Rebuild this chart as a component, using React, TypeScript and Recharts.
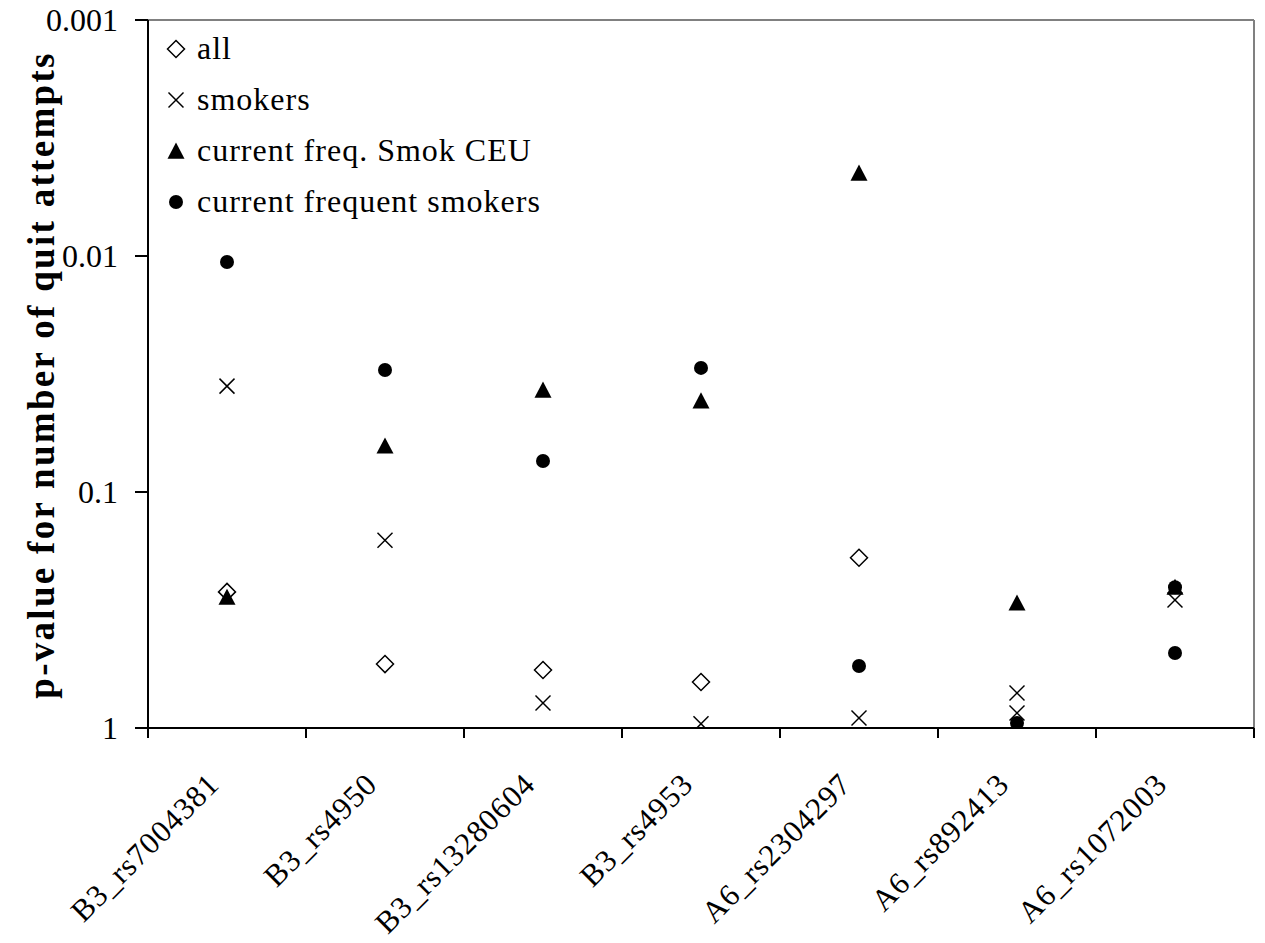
import { ScatterChart, Scatter, XAxis, YAxis, Legend, ReferenceLine } from "recharts";

const snps = [
  "B3_rs7004381",
  "B3_rs4950",
  "B3_rs13280604",
  "B3_rs4953",
  "A6_rs2304297",
  "A6_rs892413",
  "A6_rs1072003",
];

// p-values (log scale, 1 at the bottom)
const all = [0.265, 0.536, 0.568, 0.638, 0.19, null, null];
const smokers = [0.0356, 0.16, 0.784, 0.96, 0.907, 0.711, 0.287];
const freqSmokCEU = [0.279, 0.0638, 0.037, 0.0411, 0.00445, 0.295, 0.253];
const frequentSmokers = [0.0106, 0.0304, 0.0739, 0.0298, 0.546, 0.952, 0.253];
// extra markers on the A6 SNPs with no legend entry
const extraSmokers = [null, null, null, null, null, 0.864, null];
const extraFrequent = [null, null, null, null, null, null, 0.481];

const yTicks = [0.001, 0.01, 0.1, 1];
const centerTicks = snps.map((_, i) => i + 0.5);

const FONT = "'Liberation Serif', 'Times New Roman', serif";

const W = 1265;
const H = 943;
const MARGIN = { top: 20, right: 11, bottom: 214, left: 0 };
const Y_AXIS_W = 148;
const BAND = (W - MARGIN.left - MARGIN.right - Y_AXIS_W) / snps.length;

function toPoints(vals: (number | null)[]) {
  return vals
    .map((v, i) => (v == null ? null : { x: i + 0.5, y: v }))
    .filter((p) => p !== null);
}

const Diamond = (p: any) => {
  const { cx, cy } = p;
  const r = 8.5;
  return (
    <polygon
      points={`${cx},${cy - r} ${cx + r},${cy} ${cx},${cy + r} ${cx - r},${cy}`}
      fill="#fff"
      stroke="#000"
      strokeWidth={1.5}
    />
  );
};

const Cross = (p: any) => {
  const { cx, cy } = p;
  const r = 7.5;
  return (
    <g stroke="#000" strokeWidth={1.5}>
      <line x1={cx - r} y1={cy - r} x2={cx + r} y2={cy + r} />
      <line x1={cx - r} y1={cy + r} x2={cx + r} y2={cy - r} />
    </g>
  );
};

const Triangle = (p: any) => {
  const { cx, cy } = p;
  const r = 8.5;
  return (
    <polygon
      points={`${cx},${cy - r} ${cx + r},${cy + r * 0.9} ${cx - r},${cy + r * 0.9}`}
      fill="#000"
    />
  );
};

const Dot = (p: any) => {
  const { cx, cy } = p;
  return <circle cx={cx} cy={cy} r={7} fill="#000" />;
};

const legendItems = [
  { name: "all", Icon: Diamond },
  { name: "smokers", Icon: Cross },
  { name: "current freq. Smok CEU", Icon: Triangle },
  { name: "current frequent smokers", Icon: Dot },
];

function LegendBox() {
  return (
    <div style={{ fontFamily: FONT, fontSize: 32, letterSpacing: 1, color: "#000" }}>
      {legendItems.map(({ name, Icon }) => (
        <div key={name} style={{ display: "flex", alignItems: "center", height: 51 }}>
          <svg width={34} height={30}>
            <Icon cx={16} cy={15} />
          </svg>
          <span style={{ marginLeft: 3, whiteSpace: "nowrap" }}>{name}</span>
        </div>
      ))}
    </div>
  );
}

// label at the category centre, tick marks on the category boundaries
const SnpTick = (props: any) => {
  const { x, y, payload, index } = props;
  const ax = x - 6;
  const ay = y + 58;
  const left = x - BAND / 2;
  const right = x + BAND / 2;
  return (
    <g>
      <line x1={left} y1={y} x2={left} y2={y + 10} stroke="#000" strokeWidth={2} />
      {index === snps.length - 1 && (
        <line x1={right} y1={y} x2={right} y2={y + 10} stroke="#000" strokeWidth={2} />
      )}
      <text
        x={ax}
        y={ay}
        transform={`rotate(-45 ${ax} ${ay})`}
        textAnchor="end"
        fontFamily={FONT}
        fontSize={31}
        letterSpacing={1}
        fill="#000"
      >
        {snps[Math.floor(payload.value)]}
      </text>
    </g>
  );
};

export default function App() {
  return (
    <div style={{ position: "absolute", left: 0, top: 0, width: W, height: H, background: "#fff" }}>
      <div
        style={{
          position: "absolute",
          left: 41,
          top: 375,
          transform: "translate(-50%, -50%) rotate(-90deg)",
          fontFamily: FONT,
          fontWeight: "bold",
          fontSize: 37,
          letterSpacing: 2.3,
          whiteSpace: "nowrap",
          color: "#000",
        }}
      >
        p-value for number of quit attempts
      </div>
      <ScatterChart width={W} height={H} margin={MARGIN}>
        <XAxis
          type="number"
          dataKey="x"
          domain={[0, snps.length]}
          ticks={centerTicks}
          tick={<SnpTick />}
          tickLine={false}
          tickSize={0}
          tickMargin={0}
          height={1}
          axisLine={{ stroke: "#000", strokeWidth: 2 }}
          interval={0}
        />
        <YAxis
          type="number"
          dataKey="y"
          scale="log"
          domain={[0.001, 1]}
          allowDataOverflow
          reversed
          ticks={yTicks}
          tickFormatter={(v: number) => String(v)}
          width={Y_AXIS_W}
          tickSize={13}
          tickMargin={17}
          interval={0}
          axisLine={{ stroke: "#000", strokeWidth: 2 }}
          tickLine={{ stroke: "#000", strokeWidth: 2 }}
          tick={{ fill: "#000", fontSize: 32, fontFamily: FONT }}
        />
        <ReferenceLine y={0.001} stroke="#808080" strokeWidth={2} />
        <ReferenceLine x={snps.length} stroke="#808080" strokeWidth={2} />
        <Legend
          layout="vertical"
          verticalAlign="middle"
          align="center"
          content={() => <LegendBox />}
          wrapperStyle={{ top: 23, left: 160, width: "auto", height: "auto" }}
        />
        <Scatter name="all" data={toPoints(all)} shape={Diamond} isAnimationActive={false} />
        <Scatter name="smokers" data={toPoints(smokers)} shape={Cross} isAnimationActive={false} />
        <Scatter
          name="smokers (extra)"
          data={toPoints(extraSmokers)}
          shape={Cross}
          legendType="none"
          isAnimationActive={false}
        />
        <Scatter
          name="current freq. Smok CEU"
          data={toPoints(freqSmokCEU)}
          shape={Triangle}
          isAnimationActive={false}
        />
        <Scatter
          name="current frequent smokers"
          data={toPoints(frequentSmokers)}
          shape={Dot}
          isAnimationActive={false}
        />
        <Scatter
          name="current frequent smokers (extra)"
          data={toPoints(extraFrequent)}
          shape={Dot}
          legendType="none"
          isAnimationActive={false}
        />
      </ScatterChart>
    </div>
  );
}
